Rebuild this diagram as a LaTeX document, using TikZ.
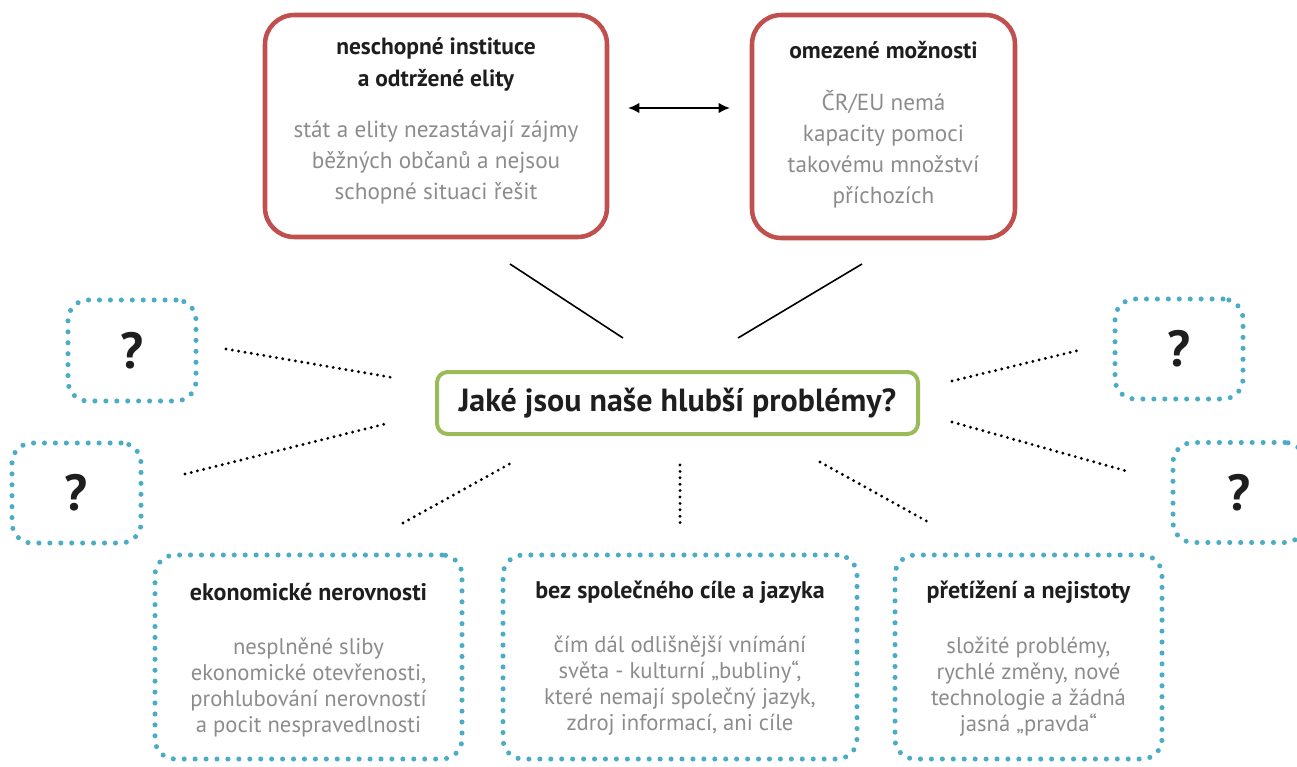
\documentclass[tikz,border=0pt]{standalone}
\usepackage{fontspec}
\setmainfont{PT Sans}
\usetikzlibrary{arrows.meta}
\definecolor{boxred}{RGB}{192,80,77}
\definecolor{boxgreen}{RGB}{155,187,89}
\definecolor{boxblue}{RGB}{75,172,198}
\definecolor{txtgray}{RGB}{140,140,140}
\definecolor{txtdark}{RGB}{30,30,30}
\tikzset{
  redbox/.style={draw=boxred, line width=3.4pt, rounded corners=22pt, inner sep=0pt},
  greenbox/.style={draw=boxgreen, line width=3pt, rounded corners=8pt, inner sep=0pt},
  bluebox/.style={draw=boxblue, line width=3.8pt, line cap=round, dash pattern=on 0pt off 8.2pt, rounded corners=15pt, inner sep=0pt},
  toptitle/.style={align=center, text=txtdark, font=\fontsize{17.6}{24}\selectfont\bfseries},
  topbody/.style={align=center, text=txtgray, font=\fontsize{17.4}{23.25}\selectfont},
  bottitle/.style={align=center, text=txtdark, font=\fontsize{18}{20}\selectfont\bfseries},
  botbody/.style={align=center, text=txtgray, font=\fontsize{17}{19.5}\selectfont},
  qmark/.style={text=txtdark, font=\fontsize{38}{38}\selectfont\bfseries},
  solidlink/.style={draw=black, line width=1.2pt},
  dotlink/.style={draw=black, line width=2.4pt, line cap=round, dash pattern=on 0pt off 4.8pt},
}
\begin{document}
\begin{tikzpicture}[x=0.75pt,y=-0.75pt]
\useasboundingbox (0,0) rectangle (1297,767);
\begin{scope}
\clip (0,0) rectangle (1297,767);
% top red boxes
\node[redbox, minimum width=342*0.75pt, minimum height=222*0.75pt] (inst) at (436,126) {};
\node[redbox, minimum width=263*0.75pt, minimum height=223*0.75pt] (moz) at (883.5,126.5) {};
\node[toptitle] (instT) at (436,64) {neschopné instituce\\a odtržené elity};
\node[topbody] (instB) at (436,162) {stát a elity nezastávají zájmy\\běžných občanů a nejsou\\schopné situaci řešit};
\node[toptitle] (mozT) at (883.5,50) {omezené možnosti};
\node[topbody] (mozB) at (883.5,149.5) {ČR/EU nemá\\kapacity pomoci\\takovému množství\\příchozích};
\coordinate (arrL) at (628,108);
\coordinate (arrR) at (730,108);
\draw[line width=1.8pt, {Latex[length=8.5pt,width=8pt]}-{Latex[length=8.5pt,width=8pt]}] (arrL) -- (arrR);
% central
\node[greenbox, minimum width=481*0.75pt, minimum height=62*0.75pt] (center) at (677.5,403) {};
\node[font=\fontsize{24}{28}\selectfont\bfseries, text=txtdark] (centerT) at (677.5,403) {Jaké jsou naše hlubší problémy?};
% solid links
\coordinate (s1a) at (510,264); \coordinate (s1b) at (623,338);
\coordinate (s2a) at (862,264); \coordinate (s2b) at (738,338);
\draw[solidlink] (s1a) -- (s1b);
\draw[solidlink] (s2a) -- (s2b);
% question boxes
\node[bluebox, minimum width=128*0.75pt, minimum height=101*0.75pt] (q1) at (132,350.5) {};
\node[qmark] (q1T) at (132,350.5) {?};
\node[bluebox, minimum width=129*0.75pt, minimum height=100*0.75pt] (q2) at (76.5,493) {};
\node[qmark] (q2T) at (76.5,493) {?};
\node[bluebox, minimum width=128*0.75pt, minimum height=100*0.75pt] (q3) at (1179,349) {};
\node[qmark] (q3T) at (1179,349) {?};
\node[bluebox, minimum width=132*0.75pt, minimum height=100*0.75pt] (q4) at (1239,492.5) {};
\node[qmark] (q4T) at (1239,492.5) {?};
% dotted links
\coordinate (d1a) at (226,349); \coordinate (d1b) at (395,378);
\coordinate (d2a) at (185,474); \coordinate (d2b) at (389,423);
\coordinate (d3a) at (403,523); \coordinate (d3b) at (513,462);
\coordinate (d4a) at (680,465); \coordinate (d4b) at (680,523);
\coordinate (d5a) at (820,462); \coordinate (d5b) at (930,523);
\coordinate (d6a) at (952,381); \coordinate (d6b) at (1080,350);
\coordinate (d7a) at (952,422); \coordinate (d7b) at (1130,472);
\foreach \a/\b in {d1a/d1b,d2a/d2b,d3a/d3b,d4a/d4b,d5a/d5b,d6a/d6b,d7a/d7b}
  \draw[dotlink] (\a) -- (\b);
% bottom boxes
\node[bluebox, minimum width=307*0.75pt, minimum height=204*0.75pt] (eko) at (308.5,657) {};
\node[bottitle] (ekoT) at (308.5,592) {ekonomické nerovnosti};
\node[botbody] (ekoB) at (308.5,687) {nesplněné sliby\\ekonomické otevřenosti,\\prohlubování nerovností\\a pocit nespravedlnosti};
\node[bluebox, minimum width=354*0.75pt, minimum height=204*0.75pt] (bez) at (680,657) {};
\node[bottitle] (bezT) at (680,592) {bez společného cíle a jazyka};
\node[botbody] (bezB) at (680,686) {čím dál odlišnější vnímání\\světa - kulturní „bubliny“,\\které nemají společný jazyk,\\zdroj informací, ani cíle};
\node[bluebox, minimum width=267*0.75pt, minimum height=204*0.75pt] (pre) at (1028.5,657) {};
\node[bottitle] (preT) at (1028.5,592) {přetížení a nejistoty};
\node[botbody] (preB) at (1028.5,687) {složité problémy,\\rychlé změny, nové\\technologie a žádná\\jasná „pravda“};
\end{scope}
\end{tikzpicture}
\end{document}
